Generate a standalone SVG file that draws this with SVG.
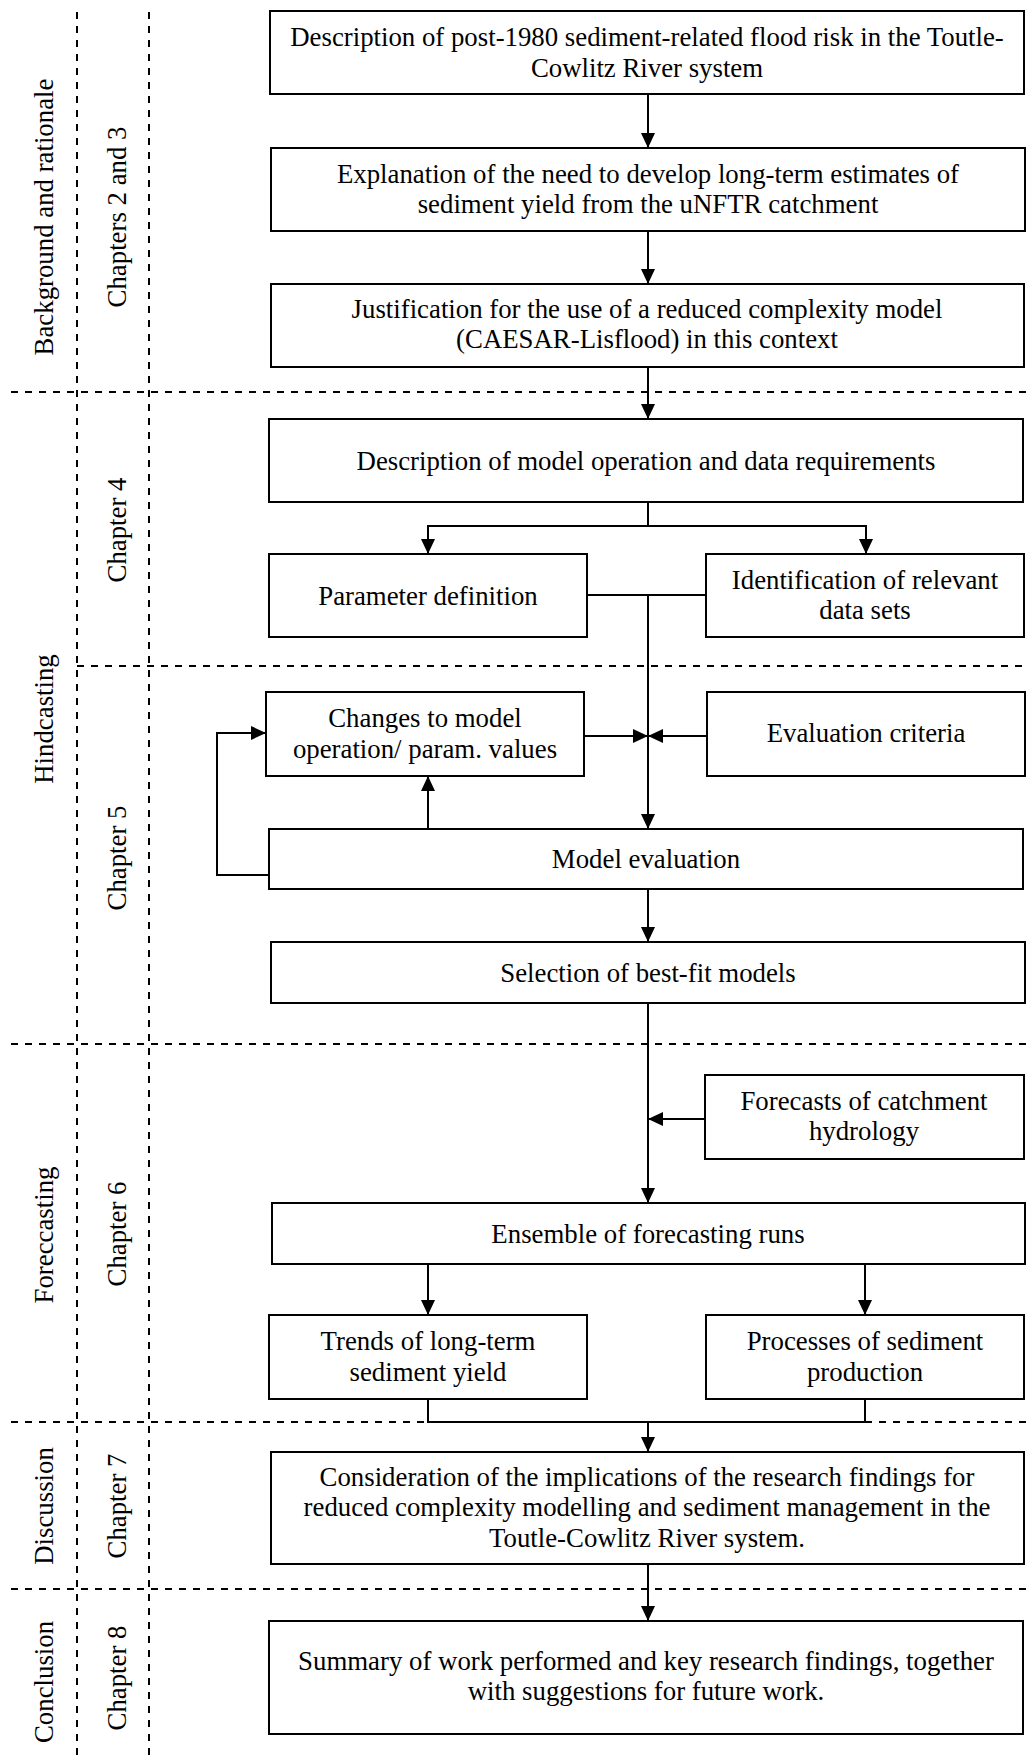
<svg xmlns="http://www.w3.org/2000/svg" width="1032" height="1760" viewBox="0 0 1032 1760">
<style>
text{font-family:"Liberation Serif","Times New Roman",serif;font-size:26.8px;fill:#000;text-anchor:middle}
.box{fill:#fff;stroke:#000;stroke-width:2}
.dash{fill:none;stroke:#000;stroke-width:2;stroke-dasharray:7 7}
.c{fill:none;stroke:#000;stroke-width:2}
</style>
<defs>
<marker id="ah" markerUnits="userSpaceOnUse" markerWidth="16" markerHeight="14" refX="15" refY="7" orient="auto"><path d="M0,0 L15,7 L0,14 z" fill="#000"/></marker>
</defs>
<rect width="1032" height="1760" fill="#fff"/>
<g id="grid">
<line class="dash" x1="77" y1="12" x2="77" y2="1757"/>
<line class="dash" x1="149" y1="12" x2="149" y2="1757"/>
<line class="dash" x1="11" y1="392" x2="1026" y2="392"/>
<line class="dash" x1="77" y1="666" x2="1026" y2="666"/>
<line class="dash" x1="11" y1="1044" x2="1026" y2="1044"/>
<line class="dash" x1="11" y1="1422" x2="1026" y2="1422"/>
<line class="dash" x1="11" y1="1589" x2="1026" y2="1589"/>
</g>
<g id="labels">
<text transform="translate(53,217) rotate(-90)">Background and rationale</text>
<text transform="translate(126,217) rotate(-90)">Chapters 2 and 3</text>
<text transform="translate(53,719) rotate(-90)">Hindcasting</text>
<text transform="translate(126,530) rotate(-90)">Chapter 4</text>
<text transform="translate(126,858) rotate(-90)">Chapter 5</text>
<text transform="translate(53,1235) rotate(-90)">Foreccasting</text>
<text transform="translate(126,1234) rotate(-90)">Chapter 6</text>
<text transform="translate(53,1506) rotate(-90)">Discussion</text>
<text transform="translate(126,1506) rotate(-90)">Chapter 7</text>
<text transform="translate(53,1682) rotate(-90)">Conclusion</text>
<text transform="translate(126,1678) rotate(-90)">Chapter 8</text>
</g>
<g id="connectors">
<line class="c" x1="648" y1="94" x2="648" y2="148" marker-end="url(#ah)"/>
<line class="c" x1="648" y1="231" x2="648" y2="284" marker-end="url(#ah)"/>
<line class="c" x1="648" y1="367" x2="648" y2="419" marker-end="url(#ah)"/>
<polyline class="c" points="648,502 648,526"/>
<polyline class="c" points="428,526 866,526"/>
<line class="c" x1="428" y1="525" x2="428" y2="554" marker-end="url(#ah)"/>
<line class="c" x1="866" y1="525" x2="866" y2="554" marker-end="url(#ah)"/>
<line class="c" x1="587" y1="595" x2="706" y2="595"/>
<line class="c" x1="648" y1="595" x2="648" y2="829" marker-end="url(#ah)"/>
<line class="c" x1="584" y1="736" x2="648" y2="736" marker-end="url(#ah)"/>
<line class="c" x1="707" y1="736" x2="648" y2="736" marker-end="url(#ah)"/>
<line class="c" x1="428" y1="829" x2="428" y2="776" marker-end="url(#ah)"/>
<polyline class="c" points="269,875 217,875 217,733 266,733" marker-end="url(#ah)"/>
<line class="c" x1="648" y1="889" x2="648" y2="942" marker-end="url(#ah)"/>
<line class="c" x1="648" y1="1003" x2="648" y2="1203" marker-end="url(#ah)"/>
<line class="c" x1="705" y1="1119" x2="648" y2="1119" marker-end="url(#ah)"/>
<line class="c" x1="428" y1="1264" x2="428" y2="1315" marker-end="url(#ah)"/>
<line class="c" x1="865" y1="1264" x2="865" y2="1315" marker-end="url(#ah)"/>
<polyline class="c" points="428,1399 428,1422 865,1422 865,1399"/>
<line class="c" x1="648" y1="1422" x2="648" y2="1452" marker-end="url(#ah)"/>
<line class="c" x1="648" y1="1564" x2="648" y2="1621" marker-end="url(#ah)"/>
</g>
<g id="n1"><rect class="box" x="270" y="11" width="754" height="83"/>
<text x="647" y="46">Description of post-1980 sediment-related flood risk in the Toutle-</text>
<text x="647" y="77">Cowlitz River system</text></g>
<g id="n2"><rect class="box" x="271" y="148" width="754" height="83"/>
<text x="648" y="183">Explanation of the need to develop long-term estimates of</text>
<text x="648" y="213">sediment yield from the uNFTR catchment</text></g>
<g id="n3"><rect class="box" x="271" y="284" width="753" height="83"/>
<text x="647" y="318">Justification for the use of a reduced complexity model</text>
<text x="647" y="348">(CAESAR-Lisflood) in this context</text></g>
<g id="n4"><rect class="box" x="269" y="419" width="754" height="83"/>
<text x="646" y="470">Description of model operation and data requirements</text></g>
<g id="n5"><rect class="box" x="269" y="554" width="318" height="83"/>
<text x="428" y="605">Parameter definition</text></g>
<g id="n6"><rect class="box" x="706" y="554" width="318" height="83"/>
<text x="865" y="589">Identification of relevant</text>
<text x="865" y="619">data sets</text></g>
<g id="n7"><rect class="box" x="266" y="692" width="318" height="84"/>
<text x="425" y="727">Changes to model</text>
<text x="425" y="758">operation/ param. values</text></g>
<g id="n8"><rect class="box" x="707" y="692" width="318" height="84"/>
<text x="866" y="742">Evaluation criteria</text></g>
<g id="n9"><rect class="box" x="269" y="829" width="754" height="60"/>
<text x="646" y="868">Model evaluation</text></g>
<g id="n10"><rect class="box" x="271" y="942" width="754" height="61"/>
<text x="648" y="982">Selection of best-fit models</text></g>
<g id="n11"><rect class="box" x="705" y="1075" width="319" height="84"/>
<text x="864" y="1110">Forecasts of catchment</text>
<text x="864" y="1140">hydrology</text></g>
<g id="n12"><rect class="box" x="272" y="1203" width="753" height="61"/>
<text x="648" y="1243">Ensemble of forecasting runs</text></g>
<g id="n13"><rect class="box" x="269" y="1315" width="318" height="84"/>
<text x="428" y="1350">Trends of long-term</text>
<text x="428" y="1381">sediment yield</text></g>
<g id="n14"><rect class="box" x="706" y="1315" width="318" height="84"/>
<text x="865" y="1350">Processes of sediment</text>
<text x="865" y="1381">production</text></g>
<g id="n15"><rect class="box" x="271" y="1452" width="753" height="112"/>
<text x="647" y="1486">Consideration of the implications of the research findings for</text>
<text x="647" y="1516">reduced complexity modelling and sediment management in the</text>
<text x="647" y="1547">Toutle-Cowlitz River system.</text></g>
<g id="n16"><rect class="box" x="269" y="1621" width="754" height="113"/>
<text x="646" y="1670">Summary of work performed and key research findings, together</text>
<text x="646" y="1700">with suggestions for future work.</text></g>
</svg>
